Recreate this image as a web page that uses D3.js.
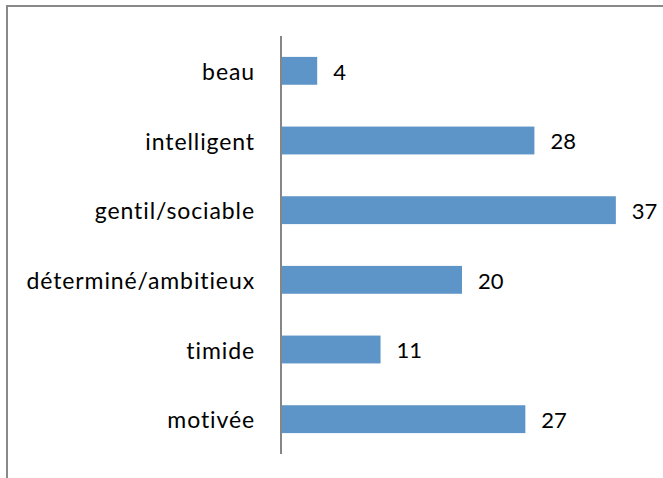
<!DOCTYPE html>
<html>
<head>
<meta charset="utf-8">
<script src="https://cdn.jsdelivr.net/npm/d3@7"></script>
<style>
  body { margin: 0; background: #fff; }
  svg text { font-family: Lato, "Open Sans", sans-serif; fill: #000; font-variant-ligatures: none; }
</style>
</head>
<body>
<div id="chart"></div>
<script>
const categories = ["beau", "intelligent", "gentil/sociable", "déterminé/ambitieux", "timide", "motivée"];
const values = [4, 28, 37, 20, 11, 27];

const width = 663, height = 478;
const plotLeft = 281, plotRight = 643, plotTop = 36, plotBottom = 454;

const svg = d3.select("#chart").append("svg")
  .attr("width", width)
  .attr("height", height);

// chart frame (right and bottom edges are outside the picture)
svg.append("rect")
  .attr("x", 7).attr("y", 6)
  .attr("width", 700).attr("height", 500)
  .attr("fill", "none")
  .attr("stroke", "#898989")
  .attr("stroke-width", 2);

const x = d3.scaleLinear().domain([0, 40]).range([plotLeft, plotRight]);

const y = d3.scaleBand()
  .domain(categories)
  .range([plotTop, plotBottom])
  .paddingInner(0.6)
  .paddingOuter(0.3);

const data = categories.map((c, i) => ({ cat: c, val: values[i] }));

svg.append("g")
  .selectAll("rect")
  .data(data)
  .enter()
  .append("rect")
  .attr("x", x(0))
  .attr("y", d => y(d.cat))
  .attr("width", d => x(d.val) - x(0))
  .attr("height", y.bandwidth())
  .attr("fill", "#5e95c9");

// vertical axis line
svg.append("line")
  .attr("x1", x(0)).attr("x2", x(0))
  .attr("y1", plotTop).attr("y2", plotBottom)
  .attr("stroke", "#868686")
  .attr("stroke-width", 2);

// category labels
svg.append("g")
  .selectAll("text")
  .data(data)
  .enter()
  .append("text")
  .attr("x", x(0) - 26)
  .attr("y", d => y(d.cat) + y.bandwidth() / 2)
  .attr("dy", "0.4em")
  .attr("text-anchor", "end")
  .attr("font-size", 23)
  .attr("letter-spacing", 0.9)
  .text(d => d.cat);

// value labels
svg.append("g")
  .selectAll("text")
  .data(data)
  .enter()
  .append("text")
  .attr("x", d => x(d.val) + 16)
  .attr("y", d => y(d.cat) + y.bandwidth() / 2)
  .attr("dy", "0.4em")
  .attr("font-size", 22)
  .text(d => d.val);
</script>
</body>
</html>
